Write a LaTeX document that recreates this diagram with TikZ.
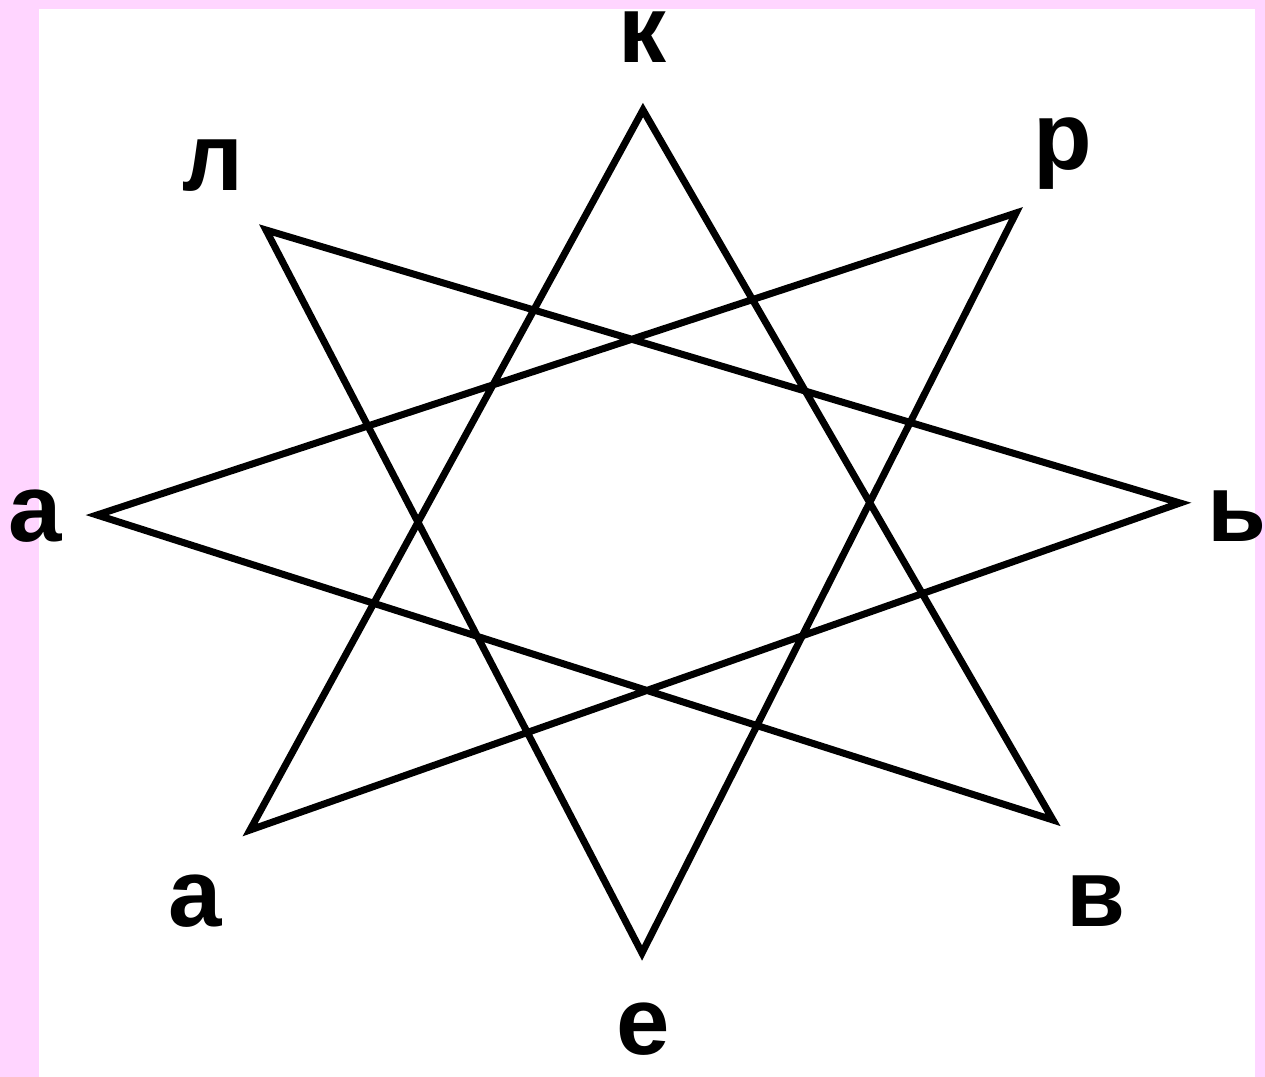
\documentclass[tikz,border=0pt]{standalone}
\usepackage{fontspec}
\setmainfont{Liberation Sans}
\definecolor{pinkbg}{RGB}{255,213,255}
\begin{document}
\begin{tikzpicture}[x=0.5pt,y=-0.5pt,
  starline/.style={line width=3.5pt,black,line join=miter},
  letter/.style={anchor=base,inner sep=0pt,font=\fontsize{48}{56}\selectfont\bfseries}]
\fill[pinkbg] (0,0) rectangle (1265,1077);
\useasboundingbox (0,0) rectangle (1265,1077);
\fill[white] (39,9) rectangle (1255,1077);
% vertices
\coordinate (vk) at (643,110);
\coordinate (vr) at (1016,213);
\coordinate (vs) at (1180,503);
\coordinate (vv) at (1053,820);
\coordinate (ve) at (642,953);
\coordinate (vab) at (250,830);
\coordinate (val) at (97,515);
\coordinate (vl) at (266,230);
% star {8/3}
\draw[starline] (vk) -- (vv) -- (val) -- (vr) -- (ve) -- (vl) -- (vs) -- (vab) -- cycle;
% labels
\node[letter] (tk) at (643,62) {к};
\node[letter] (tl) at (213,190) {л};
\node[letter] (tr) at (1063,169) {р};
\node[letter] (ts) at (1237,541) {ь};
\node[letter] (tal) at (35,541) {а};
\node[letter] (tab) at (195,926) {а};
\node[letter] (tv) at (1096,926) {в};
\node[letter] (te) at (643,1054) {е};
\end{tikzpicture}
\end{document}
